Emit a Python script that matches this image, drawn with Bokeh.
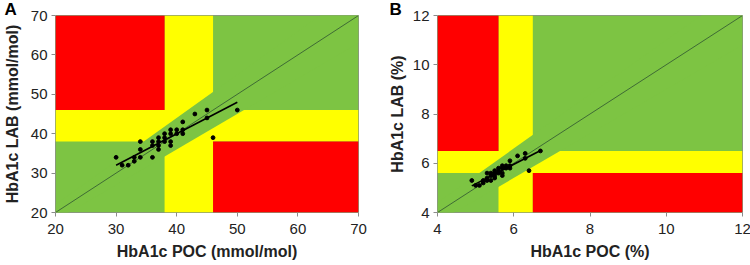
from bokeh.plotting import figure
from bokeh.layouts import row
from bokeh.models import Range1d, FixedTicker, ColumnDataSource
from bokeh.embed import file_html
from bokeh.resources import INLINE

# ---------------- data ----------------
# Panel A (mmol/mol)
poc_mmol = [30, 31, 32, 33, 33, 34, 34, 34, 36, 36, 36, 37, 37, 37, 37, 38, 38, 38,
            39, 39, 39, 39, 40, 40, 41, 41, 41, 43, 45, 45, 46, 50]
lab_mmol = [34, 32, 32, 34, 33, 38, 36, 34, 38, 37, 34, 39, 38, 37, 36, 40, 39, 38,
            41, 40, 38, 37, 41, 40, 43, 41, 40, 45, 46, 44, 39, 46]
fit_mmol_x = [30, 50]
fit_mmol_y = [32.0, 48.0]
range_mmol = [20, 70]
ticks_mmol = [20, 30, 40, 50, 60, 70]
zone_mmol = [38, 46]          # lower / upper limits of the yellow band

# Panel B (%)
poc_pct = [4.9, 5.0, 5.1, 5.2, 5.2, 5.3, 5.3, 5.3, 5.4, 5.4, 5.4, 5.5, 5.5, 5.5, 5.5,
           5.6, 5.6, 5.6, 5.7, 5.7, 5.7, 5.7, 5.8, 5.8, 5.9, 5.9, 5.9, 6.1, 6.3, 6.3,
           6.4, 6.7]
lab_pct = [5.3, 5.1, 5.1, 5.3, 5.2, 5.6, 5.4, 5.3, 5.6, 5.5, 5.3, 5.7, 5.6, 5.5, 5.4,
           5.8, 5.7, 5.6, 5.9, 5.8, 5.6, 5.5, 5.9, 5.8, 6.1, 5.9, 5.8, 6.3, 6.4, 6.2,
           5.7, 6.5]
fit_pct_x = [4.9, 6.73]
fit_pct_y = [5.08, 6.54]
range_pct = [4, 12]
ticks_pct = [4, 6, 8, 10, 12]
zone_pct = [5.6, 6.5]

band_factors = [0.9, 1.1]     # green agreement band around identity line

RED = "#FF0000"
YELLOW = "#FFFF00"
GREEN = "#7DC443"
FONT = "Liberation Sans"
TOP = 15
FRAME_H = 197


def make_panel(xs, ys, fx, fy, rng, ticks, zone, xlabel, ylabel, letter,
               border_left, frame_w, border_right, ylab_standoff, letter_offset):
    lo, hi = zone
    r0, r1 = rng
    p = figure(frame_width=frame_w, frame_height=FRAME_H,
               min_border_left=border_left, min_border_right=border_right,
               min_border_top=TOP, min_border_bottom=50,
               x_range=Range1d(r0, r1), y_range=Range1d(r0, r1),
               output_backend="svg", toolbar_location=None,
               background_fill_color="white", border_fill_color="white")
    p.grid.visible = False
    p.outline_line_color = "#8c8c8c"
    p.outline_line_width = 1

    # background zones
    p.quad(left=[r0], right=[r1], bottom=[r0], top=[r1], fill_color=GREEN, line_color=None)
    p.quad(left=[lo, r0], right=[hi, r1], bottom=[r0, lo], top=[r1, hi],
           fill_color=YELLOW, line_color=None)
    # green agreement band
    f_lo, f_hi = band_factors
    p.patch(x=[r0, r1, r1, r0], y=[r0 * f_lo, r1 * f_lo, r1 * f_hi, r0 * f_hi],
            fill_color=GREEN, line_color=None)
    # red zones
    p.quad(left=[r0, hi], right=[lo, r1], bottom=[hi, r0], top=[r1, lo],
           fill_color=RED, line_color=None)

    # identity line
    p.line(x=[r0, r1], y=[r0, r1], line_color="#3f6b35", line_width=1)
    # regression line
    p.line(x=fx, y=fy, line_color="black", line_width=1.6)
    # points
    src = ColumnDataSource(dict(x=xs, y=ys))
    p.scatter("x", "y", source=src, size=3.8, color="black")

    for ax in (p.xaxis[0], p.yaxis[0]):
        ax.ticker = FixedTicker(ticks=ticks)
        ax.axis_line_color = None
        ax.major_tick_line_color = "#8c8c8c"
        ax.major_tick_out = 4
        ax.major_tick_in = 0
        ax.minor_tick_line_color = None
        ax.major_label_text_font = FONT
        ax.major_label_text_font_size = "15px"
        ax.major_label_text_color = "#222222"
        ax.axis_label_text_font = FONT
        ax.axis_label_text_font_size = "16px"
        ax.axis_label_text_font_style = "bold"
        ax.axis_label_text_color = "#222222"
    p.xaxis.axis_label = xlabel
    p.yaxis.axis_label = ylabel
    p.xaxis.major_label_standoff = 7
    p.xaxis.axis_label_standoff = 6
    p.yaxis.major_label_standoff = 4
    p.yaxis.axis_label_standoff = ylab_standoff

    # panel letter as a left-aligned title
    p.title.text = letter
    p.title.align = "left"
    p.title.offset = letter_offset
    p.title.standoff = -6
    p.title.text_font = FONT
    p.title.text_font_size = "17px"
    p.title.text_font_style = "bold"
    p.title.text_color = "black"
    return p


pA = make_panel(poc_mmol, lab_mmol, fit_mmol_x, fit_mmol_y, range_mmol, ticks_mmol,
                zone_mmol, "HbA1c POC (mmol/mol)", "HbA1c LAB (mmol/mol)", "A",
                54, 303, 18, 7, -51)
pB = make_panel(poc_pct, lab_pct, fit_pct_x, fit_pct_y, range_pct, ticks_pct,
                zone_pct, "HbA1c POC (%)", "HbA1c LAB (%)", "B",
                61, 305, 9, 4, -48)

layout = row(pA, pB, spacing=0)
open("out.html", "w").write(file_html(layout, INLINE))
